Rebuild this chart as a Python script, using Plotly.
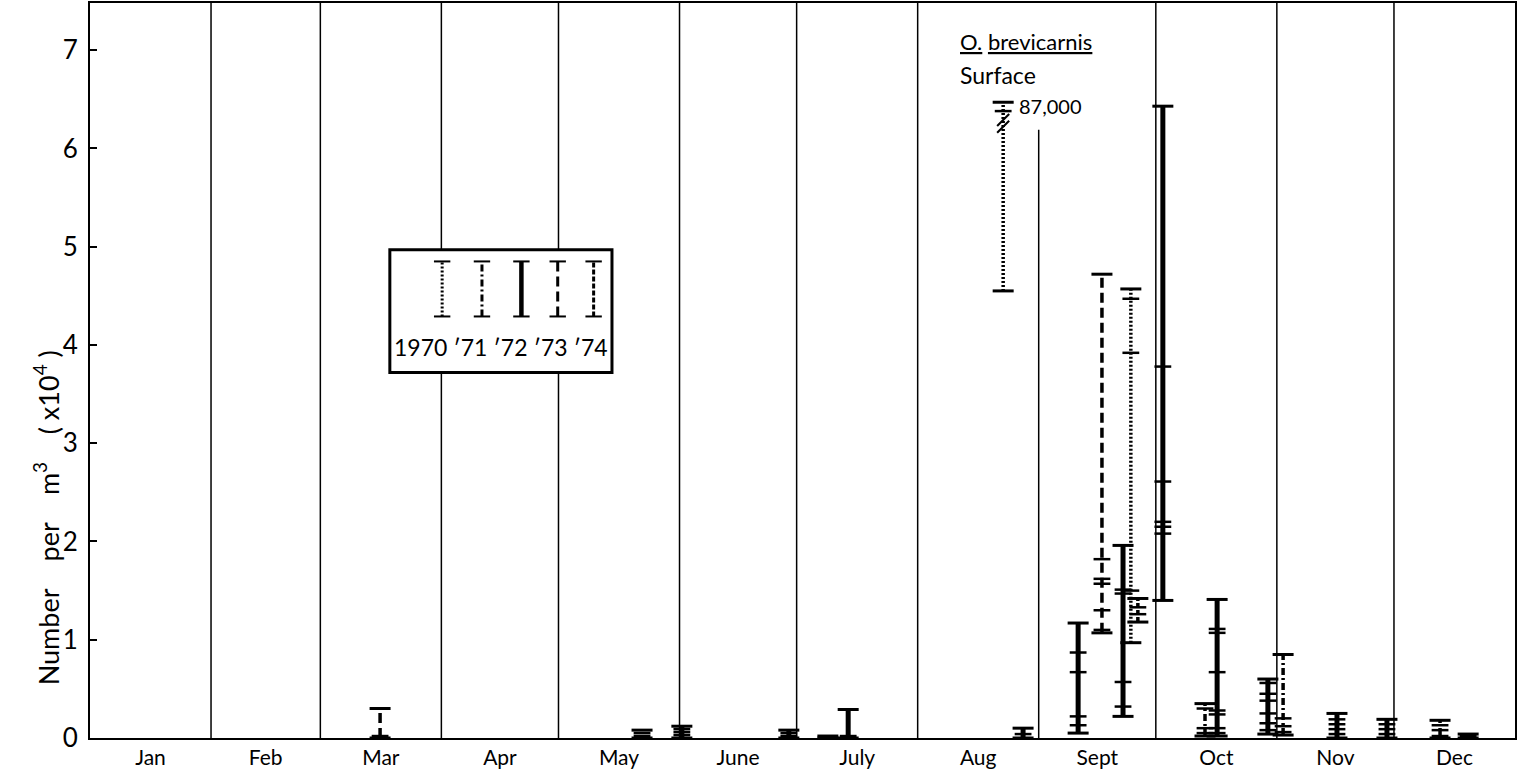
import plotly.graph_objects as go

# month layout (days per month) and labels
months = ["Jan", "Feb", "Mar", "Apr", "May", "June", "July", "Aug", "Sept", "Oct", "Nov", "Dec"]
month_days = [31, 28, 31, 30, 31, 30, 31, 31, 30, 31, 30, 31]

# key
years = ["1970", "'71", "'72", "'73", "'74"]
year_labels = "1970 \u203271 \u203272 \u203273 \u203274"

# samples: day of year, year, range low/high (x10^4 per m3) and individual values
bar_day = [74.3, 141.4, 151.6, 179.0, 189.0, 194.2, 233.9, 239.0,
           253.1, 259.2, 264.6, 266.6, 268.4,
           274.8, 285.6, 288.7, 301.7,
           305.6, 319.4, 332.2,
           345.8, 353.0]
bar_year = ["'73", "1970", "'72", "'72", "'72", "'72", "1970", "'72",
            "'72", "'73", "'72", "1970", "'74",
            "'72", "'71", "'72", "'72",
            "'71", "'72", "'72",
            "'73", "'72"]
bar_low = [0.0, 0.0, 0.0, 0.0, 0.0, 0.0, 4.55, 0.0,
           0.05, 1.07, 0.22, 0.97, 1.18,
           1.40, 0.02, 0.02, 0.04,
           0.03, 0.0, 0.0,
           0.0, 0.0]
bar_high = [0.30, 0.08, 0.12, 0.08, 0.02, 0.29, 6.47, 0.10,
            1.17, 4.72, 1.96, 4.57, 1.42,
            6.43, 0.35, 1.41, 0.60,
            0.85, 0.25, 0.19,
            0.18, 0.04]
bar_marks = [[0.02], [0.05, 0.02], [0.09, 0.06, 0.03], [0.05, 0.02], [], [0.02], [6.38], [0.04],
             [0.87, 0.67, 0.22, 0.13], [1.82, 1.62, 1.57, 1.30, 1.10], [1.51, 1.47, 0.57, 0.32],
             [4.47, 3.92, 1.50], [1.33, 1.26],
             [3.78, 2.61, 2.20, 2.15, 2.08], [0.30, 0.10, 0.05],
             [1.11, 1.07, 0.67, 0.28, 0.24, 0.10, 0.05], [0.56, 0.45, 0.38, 0.25, 0.15, 0.08],
             [0.20, 0.12, 0.06], [0.19, 0.14, 0.09, 0.04], [0.14, 0.09, 0.04],
             [0.13, 0.08, 0.02], [0.02]]
break_day = [233.9]
break_val = [6.22]

styles = {
    "1970": dict(dash="2px,2px", width=3.5),
    "'71": dict(dash="7px,3px,2px,3px", width=3.5),
    "'72": dict(dash="solid", width=5),
    "'73": dict(dash="10px,5px", width=3.5),
    "'74": dict(dash="5px,2px", width=3.5),
}

FONT = "Lato, 'Noto Sans', sans-serif"

bounds = [0]
for d in month_days:
    bounds.append(bounds[-1] + d)
mids = [(bounds[i] + bounds[i + 1]) / 2 for i in range(12)]

fig = go.Figure()

for yr in years:
    xs, ys = [], []
    for d, y, lo, hi in zip(bar_day, bar_year, bar_low, bar_high):
        if y != yr:
            continue
        xs += [d, d, None]
        ys += [lo, hi, None]
    if xs:
        fig.add_trace(go.Scatter(x=xs, y=ys, mode="lines", line=dict(color="black", **styles[yr]),
                                 hoverinfo="skip", showlegend=False))

# end caps
cap_x = bar_day + bar_day
cap_y = bar_low + bar_high
fig.add_trace(go.Scatter(x=cap_x, y=cap_y, mode="markers",
                         marker=dict(symbol="line-ew", size=15, line=dict(color="black", width=3)),
                         hoverinfo="skip", showlegend=False))
# single values
mx, my = [], []
for d, marks in zip(bar_day, bar_marks):
    mx += [d] * len(marks)
    my += marks
fig.add_trace(go.Scatter(x=mx, y=my, mode="markers",
                         marker=dict(symbol="line-ew", size=12, line=dict(color="black", width=2.5)),
                         hoverinfo="skip", showlegend=False))
# axis break marks
fig.add_trace(go.Scatter(x=break_day + break_day, y=break_val + [v + 0.07 for v in break_val], mode="markers",
                         marker=dict(symbol="line-ne", size=12, line=dict(color="black", width=2)),
                         hoverinfo="skip", showlegend=False))

shapes = []
# month dividers
for i, b in enumerate(bounds[1:-1]):
    top = 6.19 if months[i] == "Aug" else 7.48
    shapes.append(dict(type="line", xref="x", yref="y", x0=b, x1=b, y0=0, y1=top,
                       line=dict(color="black", width=1.5), layer="below"))

# key box
kx0, kx1, ky0, ky1 = 76.8, 133.7, 3.72, 4.97
shapes.append(dict(type="rect", xref="x", yref="y", x0=kx0, x1=kx1, y0=ky0, y1=ky1,
                   fillcolor="white", line=dict(color="black", width=3), layer="above"))
key_x = [90.2, 100.4, 110.5, 119.8, 129.0]
for kx, yr in zip(key_x, years):
    st = styles[yr]
    shapes.append(dict(type="line", xref="x", yref="y", x0=kx, x1=kx, y0=4.29, y1=4.85,
                       line=dict(color="black", width=st["width"] - 0.5, dash=st["dash"]), layer="above"))
    for yy in (4.29, 4.85):
        shapes.append(dict(type="line", xref="x", yref="y", x0=kx - 2.1, x1=kx + 2.1, y0=yy, y1=yy,
                           line=dict(color="black", width=2), layer="above"))

sp = "\u00a0" * 4
annotations = [
    dict(x=105.3, y=3.98, xref="x", yref="y", text=year_labels, showarrow=False,
         font=dict(family=FONT, size=23, color="black")),
    dict(x=222.3, y=7.09, xref="x", yref="y", text="<u>O.</u> <u>brevicarnis</u>", showarrow=False,
         xanchor="left", font=dict(family=FONT, size=22, color="black")),
    dict(x=222.3, y=6.75, xref="x", yref="y", text="Surface", showarrow=False,
         xanchor="left", font=dict(family=FONT, size=23, color="black")),
    dict(x=237.4, y=6.43, xref="x", yref="y", text="87,000", showarrow=False,
         xanchor="left", font=dict(family=FONT, size=20, color="black")),
    dict(x=-0.031, y=0.30, xref="paper", yref="paper", textangle=-90, showarrow=False,
         xanchor="center", yanchor="middle",
         text="Number" + sp + "per" + sp + "m<sup>3</sup>" + sp + "(\u00a0x10<sup>4</sup>\u00a0)",
         font=dict(family=FONT, size=27, color="black")),
]

fig.update_layout(
    width=1521, height=782,
    margin=dict(l=90, r=6, t=3, b=44),
    paper_bgcolor="white", plot_bgcolor="white",
    font=dict(family=FONT, color="black"),
    shapes=shapes, annotations=annotations,
    xaxis=dict(range=[0, 365], showgrid=False, zeroline=False, showline=True, mirror=True,
               linecolor="black", linewidth=2, tickvals=mids, ticktext=months, ticks="",
               tickfont=dict(size=21), automargin=False),
    yaxis=dict(range=[0, 7.48], showgrid=False, zeroline=False, showline=True, mirror=True,
               linecolor="black", linewidth=2, tickvals=list(range(8)), ticks="inside",
               ticklen=7, tickwidth=1.5, tickcolor="black", ticklabelstandoff=5,
               tickfont=dict(size=26), automargin=False),
)

# page margin would shift the figure by 8px
fig.write_html("out.html", config={"displayModeBar": False},
               post_script="document.body.style.margin='0';")
